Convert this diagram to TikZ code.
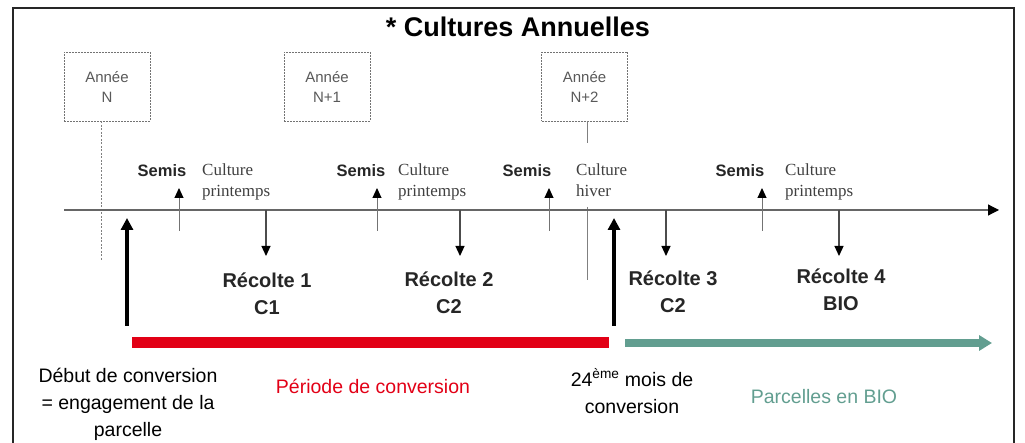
\documentclass[tikz,border=0pt]{standalone}
\usepackage{fontspec}
\setmainfont{Liberation Sans}
\newfontfamily\seriffont{Liberation Serif}
\usetikzlibrary{arrows.meta}
\definecolor{convred}{RGB}{226,0,22}
\definecolor{biogreen}{RGB}{98,158,144}
\begin{document}
\begin{tikzpicture}[x=1pt,y=-1pt,
  yearbox/.style={draw=black!55, dash pattern=on 2pt off 1pt, line width=0.8pt,
    minimum width=86pt, minimum height=69pt, inner sep=0pt, align=center,
    text=black!65, font=\fontsize{15}{20}\selectfont},
  semislbl/.style={font=\bfseries\fontsize{16.5}{20}\selectfont, anchor=base, inner sep=0pt, text=black!85},
  culture/.style={font=\seriffont\fontsize{17}{21}\selectfont, text=black!75,
    anchor=base west, align=left, inner sep=0pt},
  harvest/.style={font=\bfseries\fontsize{20}{27}\selectfont, anchor=base,
    align=center, inner sep=0pt, text=black!85},
  lowtxt/.style={font=\fontsize{19.5}{27}\selectfont, anchor=base, align=center, inner sep=0pt},
  upar/.style={draw=black!55, line width=1pt, -{Triangle[length=10pt,width=9pt,color=black]}},
  downar/.style={draw=black!70, line width=1.2pt, -{Triangle[length=10pt,width=9pt,color=black]}},
  bigar/.style={draw=black, line width=4.5pt, -{Triangle[length=12pt,width=12pt]}},
  guide/.style={draw=black!50, line width=0.9pt}
]
\useasboundingbox (0,0) rectangle (1025,443);
% frame
\draw[line width=1.5pt, black!85] (13,443) -- (13,8) -- (1014,8) -- (1014,443);
% title
\node[anchor=base, inner sep=0pt, font=\bfseries\fontsize{27}{30}\selectfont] (title) at (518,37) {* Cultures Annuelles};
% year boxes
\node[yearbox] (yN) at (107,86.5) {Année\\N};
\node[yearbox] (yN1) at (327,86.5) {Année\\N+1};
\node[yearbox] (yN2) at (584.5,86.5) {Année\\N+2};
% guide lines
\coordinate (gN) at (101,261);
\draw[guide, dash pattern=on 2pt off 1.5pt] (yN.south -| gN) -- (gN);
\coordinate (g2a) at (587,143);
\coordinate (g2b) at (587,207);
\coordinate (g2c) at (587,280);
\draw[guide] (yN2.south -| g2a) -- (g2a);
\draw[guide] (g2b) -- (g2c);
% axis
\coordinate (ax0) at (64,210);
\coordinate (ax1) at (999,210);
\draw[black!60, line width=1.2pt, -{Triangle[length=11pt,width=11pt,color=black]}] (ax0) -- (ax1);
% semis
\node[semislbl] (s1) at (162,177) {Semis};
\node[semislbl] (s2) at (361,177) {Semis};
\node[semislbl] (s3) at (527,177) {Semis};
\node[semislbl] (s4) at (740,177) {Semis};
\foreach \x/\n in {179/1,377/2,549/3,762/4}{
  \coordinate (sa\n) at (\x,231);
  \coordinate (sb\n) at (\x,188);
  \draw[upar] (sa\n) -- (sb\n);
}
% culture labels (base = last line)
\node[culture] (c1) at (202,197) {Culture\\printemps};
\node[culture] (c2) at (398,197) {Culture\\printemps};
\node[culture] (c3) at (576,197) {Culture\\hiver};
\node[culture] (c4) at (785,197) {Culture\\printemps};
% harvest arrows
\foreach \x/\n in {266/1,460/2,666/3,839/4}{
  \coordinate (ha\n) at (\x,210);
  \coordinate (hb\n) at (\x,256);
  \draw[downar] (ha\n) -- (hb\n);
}
\node[harvest] (r1) at (267,315) {Récolte 1\\C1};
\node[harvest] (r2) at (449,314) {Récolte 2\\C2};
\node[harvest] (r3) at (673,313) {Récolte 3\\C2};
\node[harvest] (r4) at (841,311) {Récolte 4\\BIO};
% big arrows
\coordinate (b1a) at (127,326);
\coordinate (b1b) at (127,218);
\coordinate (b2a) at (614,326);
\coordinate (b2b) at (614,218);
\draw[bigar] (b1a) -- (b1b);
\draw[bigar] (b2a) -- (b2b);
% bars
\coordinate (red0) at (132,343);
\coordinate (red1) at (609,343);
\draw[convred, line width=11pt] (red0) -- (red1);
\coordinate (gr0) at (625,343);
\coordinate (gr1) at (992,343);
\draw[biogreen, line width=8pt, -{Triangle[length=13pt,width=15pt]}] (gr0) -- (gr1);
% lower texts (base = last line)
\node[lowtxt] (deb) at (128,436) {Début de conversion\\= engagement de la\\parcelle};
\node[lowtxt, text=convred] (per) at (373,393) {Période de conversion};
\node[lowtxt] (m24) at (632,413) {24\textsuperscript{ème} mois de\\conversion};
\node[lowtxt, text=biogreen] (pbio) at (824,403) {Parcelles en BIO};
\end{tikzpicture}
\end{document}
